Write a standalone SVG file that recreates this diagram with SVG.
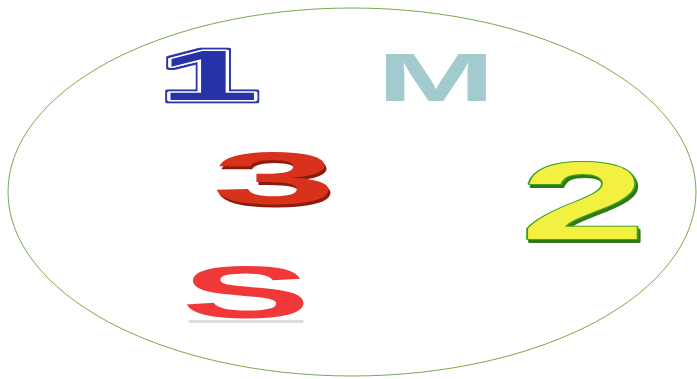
<svg xmlns="http://www.w3.org/2000/svg" width="697" height="379" viewBox="0 0 697 379">
<style>
.g{font-family:"Liberation Sans",Arial,sans-serif;font-weight:bold;text-anchor:middle}
.ns{vector-effect:non-scaling-stroke;stroke-linejoin:round;paint-order:stroke}
</style>
<defs>
<filter id="out1" x="-20%" y="-20%" width="140%" height="140%">
<feMorphology in="SourceAlpha" operator="dilate" radius="0.7 1.6" result="d"/>
<feFlood flood-color="#2a35b0"/>
<feComposite operator="in" in2="d" result="o"/>
<feMerge><feMergeNode in="o"/><feMergeNode in="SourceGraphic"/></feMerge>
</filter>
<filter id="sh3" x="-20%" y="-20%" width="140%" height="140%">
<feOffset in="SourceAlpha" dx="0.5" dy="2.5" result="a"/>
<feFlood flood-color="#8a1a10"/>
<feComposite operator="in" in2="a" result="o"/>
<feMerge><feMergeNode in="o"/><feMergeNode in="SourceGraphic"/></feMerge>
</filter>
<filter id="sh2" x="-20%" y="-20%" width="140%" height="140%">
<feOffset in="SourceAlpha" dx="1" dy="3" result="a"/>
<feFlood flood-color="#2f7a18"/>
<feComposite operator="in" in2="a" result="o"/>
<feMerge><feMergeNode in="o"/><feMergeNode in="SourceGraphic"/></feMerge>
</filter>
</defs>
<rect width="697" height="379" fill="#ffffff"/>
<ellipse cx="352" cy="192" rx="344" ry="184" fill="none" stroke="#7aaa50" stroke-width="1"/>
<g id="n1" transform="translate(209,100) scale(2.56,1)">
<text class="g ns" x="0" y="0" font-size="70" fill="#2631a8" stroke="#ffffff" stroke-width="5" filter="url(#out1)">1</text>
</g>
<g id="nM" transform="translate(436,101) scale(2.1,1)">
<text class="g" x="0" y="0" font-size="68" fill="#a3cbcf">M</text>
</g>
<g id="n3" transform="translate(274,204) scale(3.04,1)">
<text class="g" x="0" y="0" font-size="74" fill="#d8301e" filter="url(#sh3)">3</text>
</g>
<g id="n2" transform="translate(583,239) scale(2.05,1)">
<text class="g ns" x="0" y="0" font-size="110" fill="#f2f040" stroke="#3fa020" stroke-width="3" filter="url(#sh2)">2</text>
</g>
<g id="nS" transform="translate(246,318) scale(2.6,1)">
<rect x="-22" y="2" width="44" height="3" fill="#dddddd"/>
<text class="g" x="0" y="0" font-size="75" fill="#f03838">S</text>
</g>
<g id="connectors"/>
</svg>
